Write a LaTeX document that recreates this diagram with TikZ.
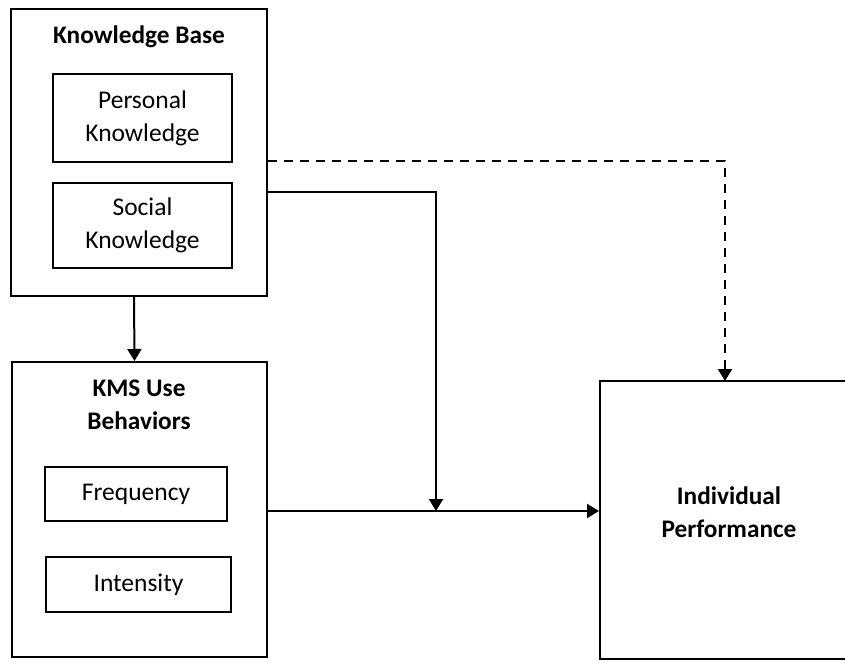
\documentclass[tikz,border=0pt]{standalone}
\usepackage{fontspec}
\setmainfont{Carlito}
\usetikzlibrary{arrows.meta}
\begin{document}
\begin{tikzpicture}[x=1pt,y=-1pt,
  line width=2pt,
  box/.style={draw, rectangle, inner sep=0pt, align=center, font=\fontsize{25.5}{33}\selectfont},
  ttl/.style={inner sep=0pt, align=center, font=\fontsize{25.3}{33}\selectfont\bfseries},
  arr/.style={-{Triangle[width=14pt,length=12pt]}},
  dsh/.style={dash pattern=on 9pt off 7pt}]
\useasboundingbox (0,0) rectangle (845,661);
% Knowledge Base
\node[box, minimum width=256pt, minimum height=287pt] (kb) at (139,152.5) {};
\node[ttl] (kbt) at (139,37) {Knowledge Base};
\node[box, minimum width=179pt, minimum height=88pt] (pk) at (142.5,118) {Personal\\Knowledge};
\node[box, minimum width=179pt, minimum height=85pt] (sk) at (142.5,225.5) {Social\\Knowledge};
% KMS Use Behaviors
\node[box, minimum width=255pt, minimum height=295pt] (kms) at (139.5,509.5) {};
\node[ttl] (kmst) at (139,405) {KMS Use\\Behaviors};
\node[box, minimum width=182pt, minimum height=54pt] (fr) at (136,494) {Frequency};
\node[box, minimum width=185pt, minimum height=55pt] (in) at (138.5,584.5) {Intensity};
% Individual Performance
\begin{scope}
\clip (0,0) rectangle (845,661);
\node[box, minimum width=258pt, minimum height=278pt] (ip) at (729,520) {};
\end{scope}
\node[ttl] (ipt) at (729,512) {Individual\\Performance};
% connectors
\coordinate (j) at (436,511);
\coordinate (dt) at (725,381);
\draw[arr] ([xshift=-5pt]kb.south) -- ([xshift=-5pt]kms.north);
\draw[arr] (kb.east |- 0,192) -| (j);
\draw[arr] (kms.east |- j) -- (ip.west |- j);
\draw[arr,dsh] (kb.east |- 0,161) -| (dt);
\end{tikzpicture}
\end{document}
